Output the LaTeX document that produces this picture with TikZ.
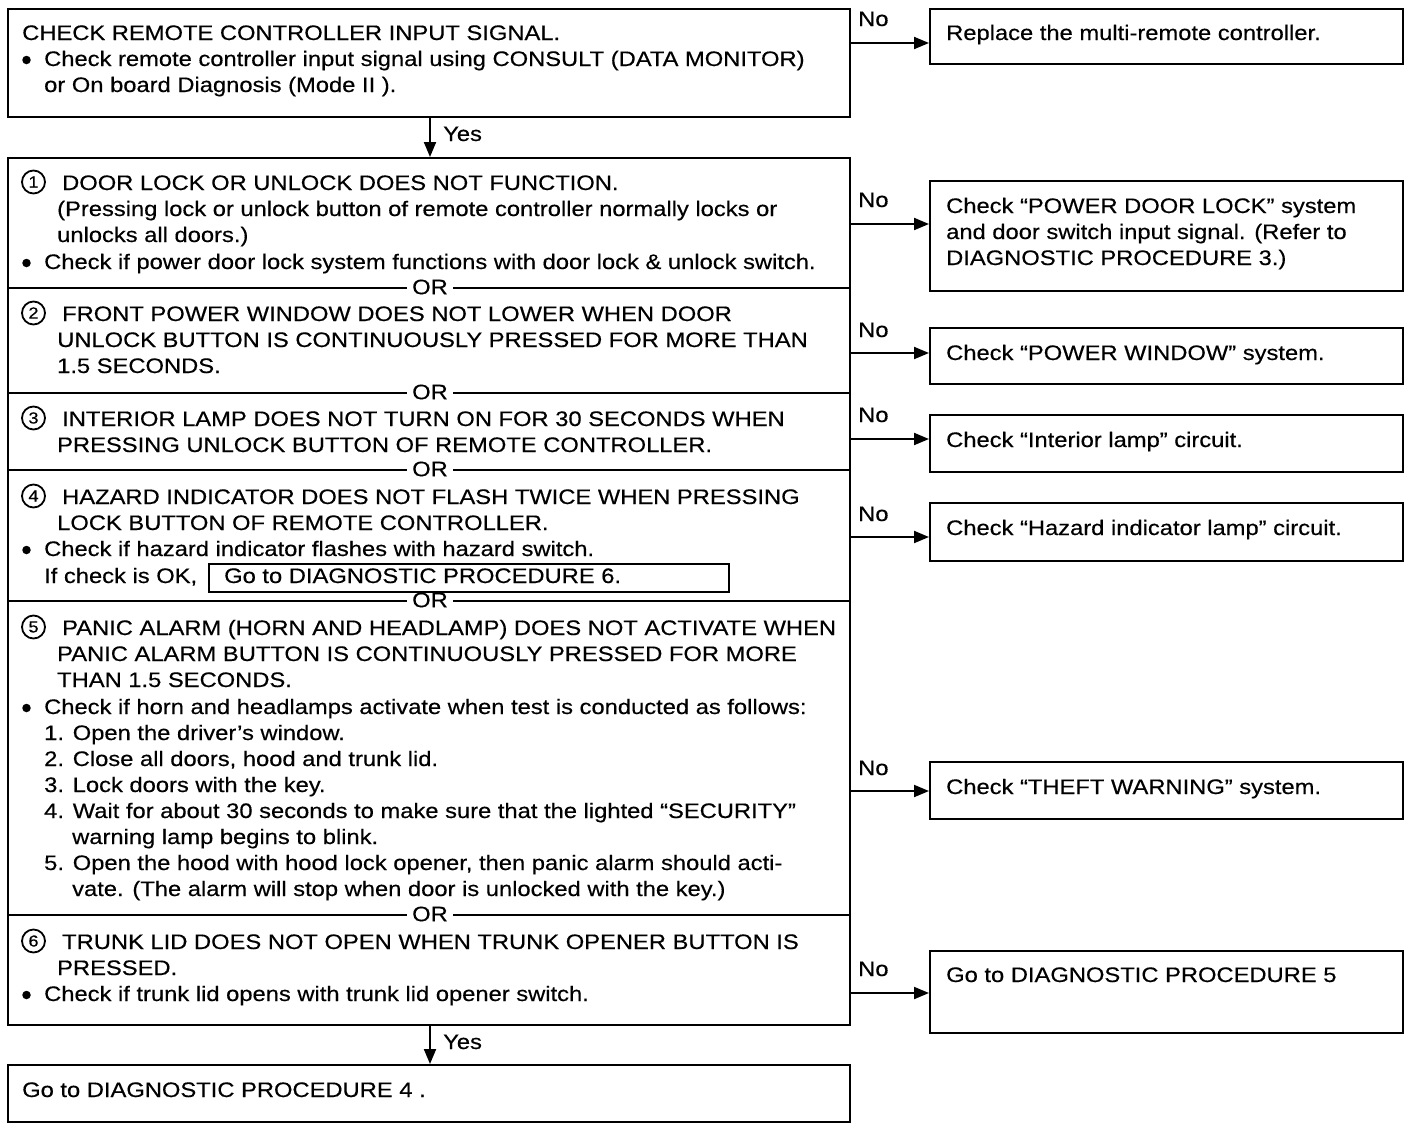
\documentclass[tikz,border=0pt]{standalone}
\usepackage{fontspec}
\setmainfont{Liberation Sans}[FakeStretch=1.13,FakeBold=0.4]
\usetikzlibrary{arrows.meta}
\newcommand\fsz{\fontsize{21pt}{26pt}\selectfont}
\tikzset{
 x=1pt,y=-1pt,
 txt/.style={inner sep=0pt,anchor=base west,font=\fsz},
 frame/.style={draw,line width=2.4pt,inner sep=0pt,anchor=north west},
 rframe/.style={draw,line width=2.2pt,inner sep=0pt,anchor=north west,minimum width=473},
 sepline/.style={line width=2pt},
 arr/.style={line width=2pt,-{Triangle[length=15pt,width=12pt]}},
 ortext/.style={fill=white,inner xsep=5pt,inner ysep=1pt,font=\fsz},
 cnum/.style={draw,circle,line width=1.8pt,minimum size=23pt,inner sep=0pt,font=\fontsize{16pt}{16pt}\selectfont},
 dot/.style={fill,circle,inner sep=0pt,minimum size=8.5pt},
}
\begin{document}
\begin{tikzpicture}
\useasboundingbox[fill=white] (0,0) rectangle (1424,1128);
% main boxes
\node[frame,minimum width=842,minimum height=108] (A) at (7,8) {};
\node[frame,minimum width=842,minimum height=867] (B) at (7,157) {};
\node[frame,minimum width=842,minimum height=57] (C) at (7,1064) {};
% right boxes
\node[rframe,minimum height=55] (R1) at (929,8) {};
\node[rframe,minimum height=110] (R2) at (929,180) {};
\node[rframe,minimum height=56] (R3) at (929,327) {};
\node[rframe,minimum height=57] (R4) at (929,414) {};
\node[rframe,minimum height=58] (R5) at (929,502) {};
\node[rframe,minimum height=57] (R6) at (929,761) {};
\node[rframe,minimum height=82] (R7) at (929,950) {};
% separators
\draw[sepline] (7,288) -- (849,288);
\draw[sepline] (7,393) -- (849,393);
\draw[sepline] (7,470) -- (849,470);
\draw[sepline] (7,601) -- (849,601);
\draw[sepline] (7,915) -- (849,915);
\node[ortext] (or1) at (430,287) {OR};
\node[ortext] (or2) at (430,392) {OR};
\node[ortext] (or3) at (430,469) {OR};
\node[ortext] (or4) at (430,600) {OR};
\node[ortext] (or5) at (430,914) {OR};
% Yes arrows
\coordinate (yx) at (430,0);
\draw[arr] (A.south -| yx) -- (B.north -| yx);
\draw[arr] (B.south -| yx) -- (C.north -| yx);
\node[txt] (yes1) at (443,141) {Yes};
\node[txt] (yes2) at (443,1049) {Yes};
% No arrows
\coordinate (n1) at (900,43);
\coordinate (n2) at (900,224);
\coordinate (n3) at (900,353);
\coordinate (n4) at (900,439);
\coordinate (n5) at (900,537);
\coordinate (n6) at (900,791);
\coordinate (n7) at (900,993);
\draw[arr] (A.east |- n1) -- (R1.west |- n1);
\draw[arr] (B.east |- n2) -- (R2.west |- n2);
\draw[arr] (B.east |- n3) -- (R3.west |- n3);
\draw[arr] (B.east |- n4) -- (R4.west |- n4);
\draw[arr] (B.east |- n5) -- (R5.west |- n5);
\draw[arr] (B.east |- n6) -- (R6.west |- n6);
\draw[arr] (B.east |- n7) -- (R7.west |- n7);
\node[txt] (no1) at (858,26) {No};
\node[txt] (no2) at (858,207) {No};
\node[txt] (no3) at (858,337) {No};
\node[txt] (no4) at (858,422) {No};
\node[txt] (no5) at (858,521) {No};
\node[txt] (no6) at (858,775) {No};
\node[txt] (no7) at (858,976) {No};
% Box A text
\node[txt] (a1) at (22,40) {CHECK REMOTE CONTROLLER INPUT SIGNAL.};
\node[dot] (a2b) at (26.5,60) {};
\node[txt] (a2) at (44,66) {Check remote controller input signal using CONSULT (DATA MONITOR)};
\node[txt] (a3) at (44,92) {or On board Diagnosis (Mode II ).};
% Section 1
\node[cnum] (c1) at (33.5,182) {1};
\node[txt] (s1a) at (62,190) {DOOR LOCK OR UNLOCK DOES NOT FUNCTION.};
\node[txt] (s1b) at (57,216) {(Pressing lock or unlock button of remote controller normally locks or};
\node[txt] (s1c) at (57,242) {unlocks all doors.)};
\node[dot] (s1db) at (26.5,263) {};
\node[txt] (s1d) at (44,269) {Check if power door lock system functions with door lock \& unlock switch.};
% Section 2
\node[cnum] (c2) at (33.5,313) {2};
\node[txt] (s2a) at (62,321) {FRONT POWER WINDOW DOES NOT LOWER WHEN DOOR};
\node[txt] (s2b) at (57,347) {UNLOCK BUTTON IS CONTINUOUSLY PRESSED FOR MORE THAN};
\node[txt] (s2c) at (57,373) {1.5 SECONDS.};
% Section 3
\node[cnum] (c3) at (33.5,418) {3};
\node[txt] (s3a) at (62,426) {INTERIOR LAMP DOES NOT TURN ON FOR 30 SECONDS WHEN};
\node[txt] (s3b) at (57,452) {PRESSING UNLOCK BUTTON OF REMOTE CONTROLLER.};
% Section 4
\node[cnum] (c4) at (33.5,496) {4};
\node[txt] (s4a) at (62,504) {HAZARD INDICATOR DOES NOT FLASH TWICE WHEN PRESSING};
\node[txt] (s4b) at (57,530) {LOCK BUTTON OF REMOTE CONTROLLER.};
\node[dot] (s4cb) at (26.5,550) {};
\node[txt] (s4c) at (44,556) {Check if hazard indicator flashes with hazard switch.};
\node[txt] (s4d) at (44,583) {If check is OK,};
\node[draw,line width=1.6pt,inner sep=0pt,anchor=north west,minimum width=520,minimum height=28] (g6) at (208,563) {};
\node[txt] (g6t) at (224,583) {Go to DIAGNOSTIC PROCEDURE 6.};
% Section 5
\node[cnum] (c5) at (33.5,627) {5};
\node[txt] (s5a) at (62,635) {PANIC ALARM (HORN AND HEADLAMP) DOES NOT ACTIVATE WHEN};
\node[txt] (s5b) at (57,661) {PANIC ALARM BUTTON IS CONTINUOUSLY PRESSED FOR MORE};
\node[txt] (s5c) at (57,687) {THAN 1.5 SECONDS.};
\node[dot] (s5db) at (26.5,708) {};
\node[txt] (s5d) at (44,714) {Check if horn and headlamps activate when test is conducted as follows:};
\node[txt] (s5e) at (44,740) {1. Open the driver’s window.};
\node[txt] (s5f) at (44,766) {2. Close all doors, hood and trunk lid.};
\node[txt] (s5g) at (44,792) {3. Lock doors with the key.};
\node[txt] (s5h) at (44,818) {4. Wait for about 30 seconds to make sure that the lighted “SECURITY”};
\node[txt] (s5i) at (72,844) {warning lamp begins to blink.};
\node[txt] (s5j) at (44,870) {5. Open the hood with hood lock opener, then panic alarm should acti-};
\node[txt] (s5k) at (72,896) {vate. (The alarm will stop when door is unlocked with the key.)};
% Section 6
\node[cnum] (c6) at (33.5,941) {6};
\node[txt] (s6a) at (62,949) {TRUNK LID DOES NOT OPEN WHEN TRUNK OPENER BUTTON IS};
\node[txt] (s6b) at (57,975) {PRESSED.};
\node[dot] (s6cb) at (26.5,995) {};
\node[txt] (s6c) at (44,1001) {Check if trunk lid opens with trunk lid opener switch.};
% Box C
\node[txt] (ct) at (22,1097) {Go to DIAGNOSTIC PROCEDURE 4 .};
% Right texts
\node[txt] (r1t) at (946,40) {Replace the multi-remote controller.};
\node[txt] (r2a) at (946,213) {Check “POWER DOOR LOCK” system};
\node[txt] (r2b) at (946,239) {and door switch input signal. (Refer to};
\node[txt] (r2c) at (946,265) {DIAGNOSTIC PROCEDURE 3.)};
\node[txt] (r3t) at (946,360) {Check “POWER WINDOW” system.};
\node[txt] (r4t) at (946,447) {Check “Interior lamp” circuit.};
\node[txt] (r5t) at (946,535) {Check “Hazard indicator lamp” circuit.};
\node[txt] (r6t) at (946,794) {Check “THEFT WARNING” system.};
\node[txt] (r7t) at (946,982) {Go to DIAGNOSTIC PROCEDURE 5};
\end{tikzpicture}
\end{document}
